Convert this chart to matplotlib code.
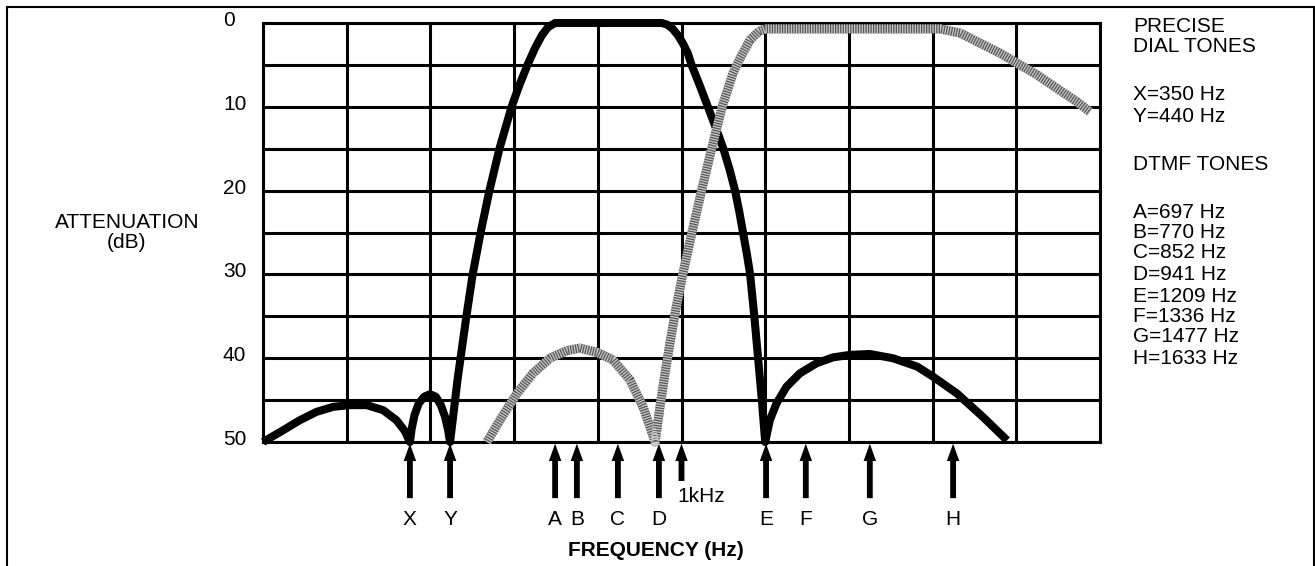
import numpy as np
import matplotlib
matplotlib.use('Agg')
import matplotlib.pyplot as plt
import matplotlib.transforms as mtransforms
from matplotlib.patches import Rectangle

plt.rcParams['font.family'] = ['Liberation Sans', 'DejaVu Sans']

# dial tone / passband response (Hz, dB)
black_f = [0, 48, 88, 128, 168, 208, 248, 287, 319, 339, 351,
           355, 362, 372, 385, 399, 413, 425, 435, 442, 447,
           453, 459, 465, 472, 486, 501, 520, 541, 565, 594, 612, 632, 650, 666, 681, 698,
           953, 966, 979, 992, 1004, 1015, 1024, 1044, 1063, 1082, 1100, 1115, 1128, 1138, 1147, 1156,
           1164, 1174, 1183, 1192, 1200,
           1211, 1227, 1251, 1283, 1323, 1362, 1403, 1450, 1505, 1563, 1601, 1658, 1720, 1778]
black_db = [50.0, 48.6, 47.4, 46.4, 45.8, 45.6, 45.6, 46.2, 47.4, 48.7, 50.0,
            48.5, 46.8, 45.4, 44.6, 44.3, 44.6, 45.6, 47.0, 48.5, 50.0,
            47.5, 45, 42.5, 40, 35, 30, 25, 20, 15, 10, 7.5, 5, 3, 1.5, 0.5, 0,
            0, 0.2, 0.7, 1.5, 2.5, 3.6, 5, 7.5, 10, 12.5, 15, 17.5, 20, 22.5, 25, 27.5,
            30, 35, 40, 45, 50,
            47.4, 45.4, 43.4, 41.8, 40.6, 39.9, 39.6, 39.5, 40.0, 41.0, 42.2, 44.2, 47.0, 49.8]

# high group response (Hz, dB)
gray_f = [535, 566, 607, 645, 686, 726, 757, 798, 836, 877, 908, 937,
          948, 960, 973, 987, 1003, 1025, 1048, 1072, 1097, 1123, 1140, 1164, 1185, 1200,
          1618, 1666, 1721, 1761, 1802, 1850, 1897, 1945, 1976]
gray_db = [50, 47.4, 44.2, 41.8, 40.0, 39.1, 38.8, 39.3, 40.2, 42.6, 45.8, 50,
           46, 42, 38, 34, 30, 25, 20, 15, 10, 6, 4.2, 2.0, 1.0, 0.7,
           0.7, 1.2, 2.6, 3.6, 4.8, 6.2, 7.8, 9.4, 10.6]

tone_names = ['X', 'Y', 'A', 'B', 'C', 'D', 'E', 'F', 'G', 'H']
tone_pos = [351, 447, 698, 750, 848, 946, 1202, 1297, 1450, 1649]
khz_pos = 1000

y_labels = [0, 10, 20, 30, 40, 50]

side_text = ['PRECISE', 'DIAL TONES', 'X=350 Hz', 'Y=440 Hz', 'DTMF TONES',
             'A=697 Hz', 'B=770 Hz', 'C=852 Hz', 'D=941 Hz',
             'E=1209 Hz', 'F=1336 Hz', 'G=1477 Hz', 'H=1633 Hz']
side_y = [25, 45, 92, 114, 162, 210, 230, 251, 272, 294, 315, 335, 356]

W, H = 1315, 566
FS = 15

fig = plt.figure(figsize=(W / 100, H / 100), dpi=100)
ax = fig.add_axes([263 / W, 1 - 442 / H, 837 / W, 419 / H])
ax.set_xlim(0, 2000)
ax.set_ylim(50, 0)
ax.set_xticks(np.arange(0, 2001, 200))
ax.set_yticks(np.arange(0, 51, 5))
ax.tick_params(length=0, labelbottom=False, labelleft=False)
ax.grid(True, color='k', lw=2.2)
ax.set_axisbelow(True)
for s in ax.spines.values():
    s.set_linewidth(2.2)

ax.plot(black_f, black_db, color='k', lw=5.8, solid_joinstyle='round',
        solid_capstyle='butt', clip_on=False, zorder=3)
# hatched look: dark band with light dashes on top
ax.plot(gray_f, gray_db, color='#555555', lw=6.5, solid_capstyle='butt',
        solid_joinstyle='round', clip_on=False, zorder=4)
ax.plot(gray_f, gray_db, color='#c8c8c8', lw=6.5, dashes=(0.14, 0.14),
        dash_capstyle='butt', clip_on=False, zorder=5)

# arrows under the grid
trans = mtransforms.blended_transform_factory(ax.transData, ax.transAxes)
tip = -0.004
astyle = 'simple,head_length=1.25,head_width=0.9,tail_width=0.42'
for name, f in zip(tone_names, tone_pos):
    ax.annotate('', xy=(f, tip), xytext=(f, -0.134), xycoords=trans, textcoords=trans,
                arrowprops=dict(arrowstyle=astyle, color='k', lw=0, shrinkA=0, shrinkB=0,
                                mutation_scale=10),
                annotation_clip=False)
    ax.text(f, -0.181, name, transform=trans, ha='center', va='center_baseline', fontsize=FS)
ax.annotate('', xy=(khz_pos, tip), xytext=(khz_pos, -0.093), xycoords=trans, textcoords=trans,
            arrowprops=dict(arrowstyle=astyle, color='k', lw=0, shrinkA=0, shrinkB=0,
                            mutation_scale=10),
            annotation_clip=False)
ax.text(khz_pos - 10, -0.126, '1kHz', transform=trans, ha='left', va='center_baseline', fontsize=FS)

# y labels
ylab_tr = mtransforms.offset_copy(mtransforms.blended_transform_factory(ax.transAxes, ax.transData),
                                  fig=fig, x=0, y=-3, units='dots')
for v in y_labels:
    ax.text(-0.0478, v, str(v), transform=ylab_tr, ha='left', va='baseline', fontsize=FS)


def put(px, py, s, ha='left', weight='normal'):
    fig.text(px / W, 1 - (py + 0.36 * FS * 100 / 72) / H, s, ha=ha, va='baseline',
             fontsize=FS, fontweight=weight)


put(127, 220, 'ATTENUATION', ha='center')
put(127, 240, '(dB)', ha='center')
put(656, 548, 'FREQUENCY (Hz)', ha='center', weight='bold')
for s, y in zip(side_text, side_y):
    put(1133, y, s)

fig.patches.append(Rectangle((7 / W, -0.05), (1314 - 7) / W, 1 - 7 / H + 0.05,
                             transform=fig.transFigure, fill=False, lw=1.5, ec='k'))

fig.savefig('out.png', dpi=100)
